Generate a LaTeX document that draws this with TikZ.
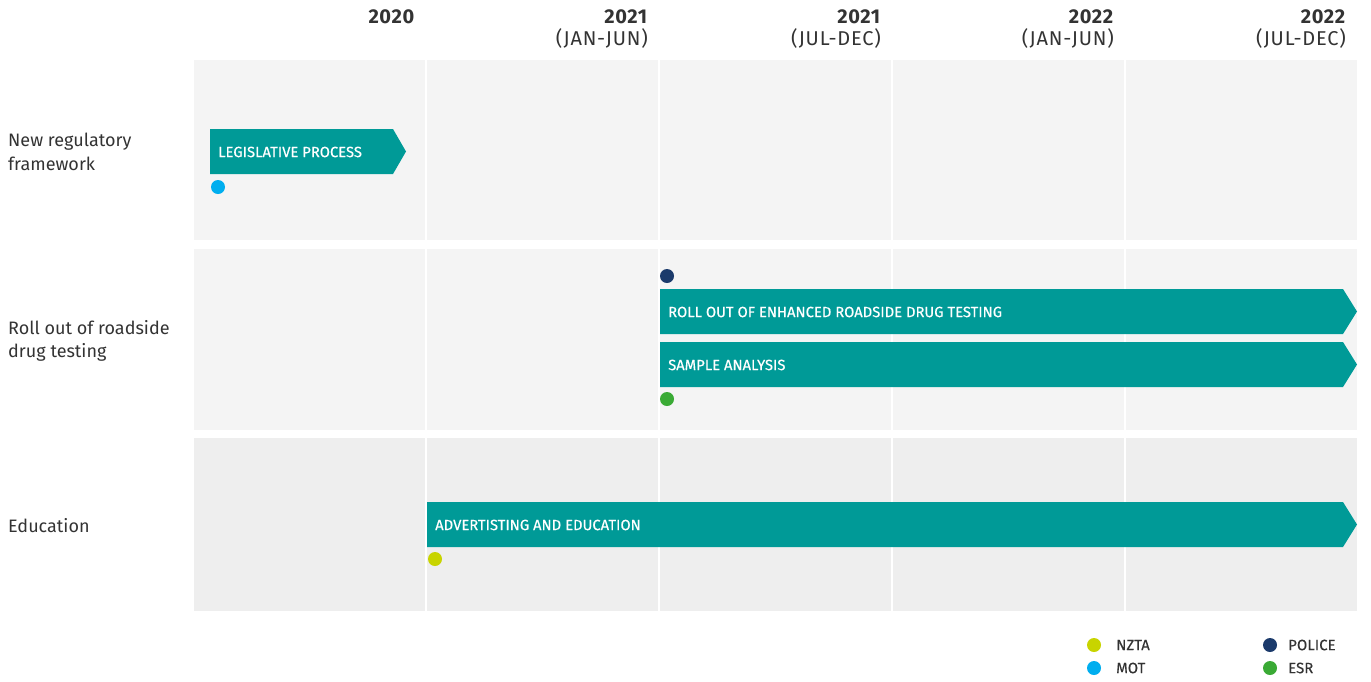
\documentclass[tikz,border=0pt]{standalone}
\usepackage{fontspec}
\setmainfont{Fira Sans}
\usepackage{tikz}
\definecolor{teal}{HTML}{009A97}
\definecolor{bandA}{HTML}{F4F4F4}
\definecolor{bandB}{HTML}{EEEEEE}
\definecolor{nzta}{HTML}{C8D400}
\definecolor{mot}{HTML}{00AEEF}
\definecolor{police}{HTML}{1B3A6B}
\definecolor{esr}{HTML}{3AAA35}
\definecolor{ink}{HTML}{333333}

\begin{document}
\begin{tikzpicture}[x=1pt,y=-1pt,
  head/.style={anchor=north east,align=right,text=ink,inner sep=0pt,
    font=\fontsize{20}{22}\selectfont},
  rowlabel/.style={anchor=west,align=left,text=ink,inner sep=0pt,
    font=\fontsize{18}{23.5}\selectfont},
  bartext/.style={anchor=west,text=white,inner sep=0pt,
    font=\fontsize{14.8}{16}\selectfont\addfontfeatures{FakeBold=0.4}},
  key/.style={anchor=west,text=ink,inner sep=0pt,
    font=\fontsize{15}{16}\selectfont\addfontfeatures{FakeBold=0.3}}]
\useasboundingbox (0,0) rectangle (1371,681);

% bands
\fill[color=bandA] (194,60) rectangle (1357,240);
\fill[color=bandA] (194,249) rectangle (1357,430);
\fill[color=bandB] (194,438) rectangle (1357,611);
\foreach \x in {426,659,892,1125}
  \draw[white,line width=2pt] (\x,60) -- (\x,611);

% headers
\node[head] (h2020) at (415,9) {\textbf{\addfontfeatures{LetterSpace=3}2020}};
\node[head] (h2021a) at (648,9) {\textbf{\addfontfeatures{LetterSpace=3}2021}\\\addfontfeatures{LetterSpace=4}(JAN-JUN)};
\node[head] (h2021b) at (881,9) {\textbf{\addfontfeatures{LetterSpace=3}2021}\\\addfontfeatures{LetterSpace=4}(JUL-DEC)};
\node[head] (h2022a) at (1114,9) {\textbf{\addfontfeatures{LetterSpace=3}2022}\\\addfontfeatures{LetterSpace=4}(JAN-JUN)};
\node[head] (h2022b) at (1346,9) {\textbf{\addfontfeatures{LetterSpace=3}2022}\\\addfontfeatures{LetterSpace=4}(JUL-DEC)};

% row labels
\node[rowlabel] (regulatory) at (8,152) {New regulatory\\framework};
\node[rowlabel] (rollout) at (8,341) {Roll out of roadside\\drug testing};
\node[rowlabel] (education) at (8,526) {Education};

% bars
\fill[color=teal] (210,129) -- (393,129) -- (406,151.5) -- (393,174) -- (210,174) -- cycle;
\node[bartext] (legislative) at (218,152) {LEGISLATIVE PROCESS};
\fill[color=mot] (218,187) circle (7);

\fill[color=teal] (660,289) -- (1343,289) -- (1357,311.5) -- (1343,334) -- (660,334) -- cycle;
\node[bartext] (enhanced) at (668,312) {ROLL OUT OF ENHANCED ROADSIDE DRUG TESTING};
\fill[color=police] (667,276) circle (7);

\fill[color=teal] (660,342) -- (1343,342) -- (1357,364.5) -- (1343,387) -- (660,387) -- cycle;
\node[bartext] (sample) at (668,365) {SAMPLE ANALYSIS};
\fill[color=esr] (667,399) circle (7);

\fill[color=teal] (427,502) -- (1343,502) -- (1357,524.5) -- (1343,547) -- (427,547) -- cycle;
\node[bartext] (advertising) at (435,525) {ADVERTISTING AND EDUCATION};
\fill[color=nzta] (435,559) circle (7);

% legend
\fill[color=nzta] (1094,645) circle (7);
\node[key] (knzta) at (1116,645) {NZTA};
\fill[color=mot] (1094,668) circle (7);
\node[key] (kmot) at (1116,668) {MOT};
\fill[color=police] (1270,645) circle (7);
\node[key] (kpolice) at (1288,645) {POLICE};
\fill[color=esr] (1270,668) circle (7);
\node[key] (kesr) at (1288,668) {ESR};
\end{tikzpicture}
\end{document}
